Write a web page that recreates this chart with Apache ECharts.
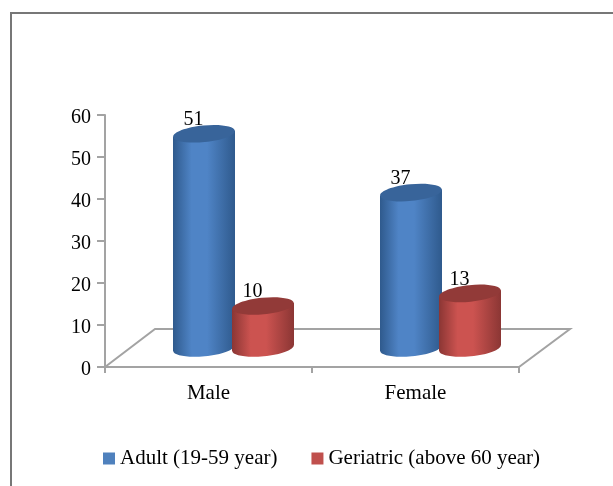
<!DOCTYPE html>
<html>
<head>
<meta charset="utf-8">
<style>
  html, body { margin: 0; padding: 0; background: #fff; }
  #main { width: 613px; height: 486px; }
</style>
<script src="https://cdn.jsdelivr.net/npm/echarts@6/dist/echarts.min.js"></script>
</head>
<body>
<div id="main"></div>
<script>
var categories = ['Male', 'Female'];
var adultValues = [51, 37];
var geriatricValues = [10, 13];
var seriesNames = ['Adult (19-59 year)', 'Geriatric (above 60 year)'];
var yTicks = { min: 0, max: 60, interval: 10 };

var fontName = '"Liberation Serif", serif';
var axisColor = '#a3a3a3';

// floor depth of the fake 3d box
var depthX = 50;
var depthY = 38;

function cylinder(colors, offsetX) {
  return function (params, api) {
    var top = api.coord([api.value(0), api.value(1)]);
    var base = api.coord([api.value(0), 0]);
    var cx = top[0] + offsetX + depthX / 2;
    var topY = top[1] - depthY / 2;
    var baseY = base[1] - depthY / 2;
    var rx = 31, ry = 8.3, tilt = 0.1, lift = rx * tilt;
    var side = new echarts.graphic.LinearGradient(0, 0, 1, 0, [
      { offset: 0, color: colors[0] },
      { offset: 0.3, color: colors[1] },
      { offset: 0.55, color: colors[1] },
      { offset: 1, color: colors[0] }
    ]);
    return {
      type: 'group',
      children: [
        { type: 'ellipse', x: cx, y: baseY, rotation: tilt,
          shape: { cx: 0, cy: 0, rx: rx, ry: ry }, style: { fill: side } },
        { type: 'polygon',
          shape: { points: [[cx - rx, topY + lift], [cx + rx, topY - lift], [cx + rx, baseY - lift], [cx - rx, baseY + lift]] },
          style: { fill: side } },
        { type: 'ellipse', x: cx, y: topY, rotation: tilt,
          shape: { cx: 0, cy: 0, rx: rx, ry: ry }, style: { fill: colors[2] } },
        { type: 'text', x: cx - 10.5, y: topY - 14,
          style: { text: String(api.value(1)), font: '20px ' + fontName, fill: '#000', align: 'center', verticalAlign: 'middle' } }
      ]
    };
  };
}

function toSeriesData(values) {
  return values.map(function (v, i) { return [i, v]; });
}

var chart = echarts.init(document.getElementById('main'), null, { renderer: 'canvas' });

chart.setOption({
  animation: false,
  backgroundColor: '#fff',
  textStyle: { fontFamily: fontName },
  graphic: [{
    type: 'polyline',
    silent: true,
    shape: { points: [[11, 486], [11, 13], [613, 13]] },
    style: { stroke: '#777', lineWidth: 2, fill: null }
  }],
  grid: { left: 105, top: 115, width: 414, height: 252 },
  legend: {
    left: 98,
    top: 443,
    itemWidth: 12,
    itemHeight: 12,
    itemGap: 34,
    icon: 'rect',
    data: seriesNames,
    textStyle: { fontFamily: fontName, fontSize: 21, color: '#000' }
  },
  xAxis: {
    type: 'category',
    data: categories,
    axisLine: { lineStyle: { color: axisColor, width: 2 } },
    axisTick: { show: true, length: 6, lineStyle: { color: axisColor, width: 2 } },
    axisLabel: { color: '#000', fontSize: 21, fontFamily: fontName, margin: 16 }
  },
  yAxis: {
    type: 'value',
    min: yTicks.min,
    max: yTicks.max,
    interval: yTicks.interval,
    splitLine: { show: false },
    axisLine: { show: true, lineStyle: { color: axisColor, width: 2 } },
    axisTick: { show: true, length: 8, lineStyle: { color: axisColor, width: 2 } },
    // nudge the numbers a little under their ticks
    axisLabel: { color: '#000', fontSize: 20, fontFamily: fontName, margin: 14, verticalAlign: 'top', lineHeight: 6 }
  },
  series: [
    {
      type: 'custom',
      silent: true,
      z: 1,
      data: [[0, 0]],
      renderItem: function (params) {
        var g = params.coordSys;
        var left = g.x, right = g.x + g.width, bottom = g.y + g.height;
        return {
          type: 'polyline',
          shape: { points: [[left, bottom], [left + depthX, bottom - depthY], [right + depthX + 1, bottom - depthY], [right, bottom]] },
          style: { stroke: axisColor, lineWidth: 2, fill: null }
        };
      }
    },
    {
      name: seriesNames[0],
      type: 'custom',
      z: 2,
      itemStyle: { color: '#4f81bd' },
      data: toSeriesData(adultValues),
      encode: { x: 0, y: 1 },
      renderItem: cylinder(['#2f5a8d', '#4f84c6', '#38649a'], -29.5)
    },
    {
      name: seriesNames[1],
      type: 'custom',
      z: 3,
      itemStyle: { color: '#c0504d' },
      data: toSeriesData(geriatricValues),
      encode: { x: 0, y: 1 },
      renderItem: cylinder(['#8b3634', '#cc5350', '#923a38'], 29.5)
    }
  ]
});
</script>
</body>
</html>
